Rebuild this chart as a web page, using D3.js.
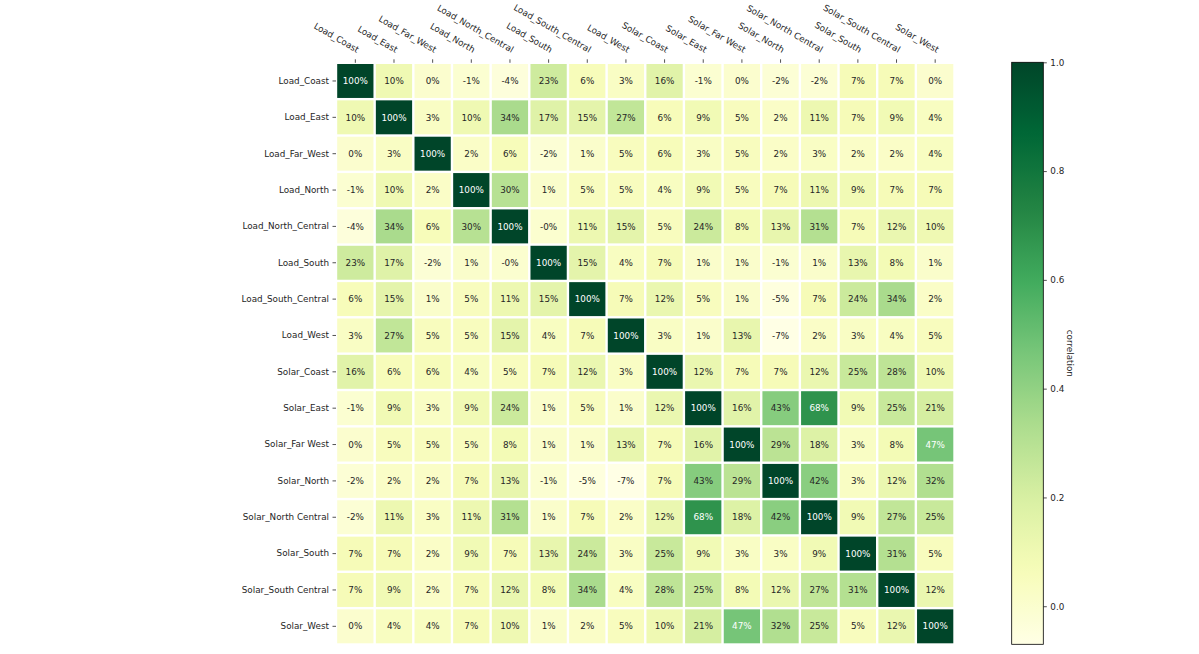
<!DOCTYPE html>
<html>
<head>
<meta charset="utf-8">
<title>Correlation heatmap</title>
<script src="https://cdn.jsdelivr.net/npm/d3@7/dist/d3.min.js"></script>
<style>
  body { margin: 0; background: #fff; }
  svg text { font-family: "DejaVu Sans", sans-serif; }
</style>
</head>
<body>
<svg id="chart" width="1199" height="654"></svg>
<script>
// row / column names
const labels = ["Load_Coast", "Load_East", "Load_Far_West", "Load_North", "Load_North_Central",
  "Load_South", "Load_South_Central", "Load_West", "Solar_Coast", "Solar_East", "Solar_Far West",
  "Solar_North", "Solar_North Central", "Solar_South", "Solar_South Central", "Solar_West"];

// correlation matrix
const corr = [
  [1.00, 0.10, 0.00, -0.01, -0.04, 0.23, 0.06, 0.03, 0.16, -0.01, 0.00, -0.02, -0.02, 0.07, 0.07, 0.00],
  [0.10, 1.00, 0.03, 0.10, 0.34, 0.17, 0.15, 0.27, 0.06, 0.09, 0.05, 0.02, 0.11, 0.07, 0.09, 0.04],
  [0.00, 0.03, 1.00, 0.02, 0.06, -0.02, 0.01, 0.05, 0.06, 0.03, 0.05, 0.02, 0.03, 0.02, 0.02, 0.04],
  [-0.01, 0.10, 0.02, 1.00, 0.30, 0.01, 0.05, 0.05, 0.04, 0.09, 0.05, 0.07, 0.11, 0.09, 0.07, 0.07],
  [-0.04, 0.34, 0.06, 0.30, 1.00, -0.004, 0.11, 0.15, 0.05, 0.24, 0.08, 0.13, 0.31, 0.07, 0.12, 0.10],
  [0.23, 0.17, -0.02, 0.01, -0.004, 1.00, 0.15, 0.04, 0.07, 0.01, 0.01, -0.01, 0.01, 0.13, 0.08, 0.01],
  [0.06, 0.15, 0.01, 0.05, 0.11, 0.15, 1.00, 0.07, 0.12, 0.05, 0.01, -0.05, 0.07, 0.24, 0.34, 0.02],
  [0.03, 0.27, 0.05, 0.05, 0.15, 0.04, 0.07, 1.00, 0.03, 0.01, 0.13, -0.07, 0.02, 0.03, 0.04, 0.05],
  [0.16, 0.06, 0.06, 0.04, 0.05, 0.07, 0.12, 0.03, 1.00, 0.12, 0.07, 0.07, 0.12, 0.25, 0.28, 0.10],
  [-0.01, 0.09, 0.03, 0.09, 0.24, 0.01, 0.05, 0.01, 0.12, 1.00, 0.16, 0.43, 0.68, 0.09, 0.25, 0.21],
  [0.00, 0.05, 0.05, 0.05, 0.08, 0.01, 0.01, 0.13, 0.07, 0.16, 1.00, 0.29, 0.18, 0.03, 0.08, 0.47],
  [-0.02, 0.02, 0.02, 0.07, 0.13, -0.01, -0.05, -0.07, 0.07, 0.43, 0.29, 1.00, 0.42, 0.03, 0.12, 0.32],
  [-0.02, 0.11, 0.03, 0.11, 0.31, 0.01, 0.07, 0.02, 0.12, 0.68, 0.18, 0.42, 1.00, 0.09, 0.27, 0.25],
  [0.07, 0.07, 0.02, 0.09, 0.07, 0.13, 0.24, 0.03, 0.25, 0.09, 0.03, 0.03, 0.09, 1.00, 0.31, 0.05],
  [0.07, 0.09, 0.02, 0.07, 0.12, 0.08, 0.34, 0.04, 0.28, 0.25, 0.08, 0.12, 0.27, 0.31, 1.00, 0.12],
  [0.00, 0.04, 0.04, 0.07, 0.10, 0.01, 0.02, 0.05, 0.10, 0.21, 0.47, 0.32, 0.25, 0.05, 0.12, 1.00]
];

// colour bar ticks
const cbarTicks = [0.0, 0.2, 0.4, 0.6, 0.8, 1.0];
const cbarLabel = "correlation";

// YlGn, 9 class
const ylgn = ["#ffffe5", "#f7fcb9", "#d9f0a3", "#addd8e", "#78c679", "#41ab5d", "#238443", "#006837", "#004529"];

const svg = d3.select("#chart");
const textDark = "#262626";
const fs = 8.8;

const vmin = d3.min(corr.flat()), vmax = 1;
const color = d3.scaleLinear()
  .domain(ylgn.map((c, i) => vmin + (vmax - vmin) * i / (ylgn.length - 1)))
  .range(ylgn)
  .interpolate(d3.interpolateRgb)
  .clamp(true);

const x = d3.scaleBand().domain(labels).range([336, 954.5]).paddingInner(0.062).paddingOuter(0.031);
const y = d3.scaleBand().domain(labels).range([62.8, 644.5]).paddingInner(0.066).paddingOuter(0.033);

function lum(c) {
  const rgb = d3.rgb(c);
  const f = v => { v /= 255; return v <= 0.03928 ? v / 12.92 : Math.pow((v + 0.055) / 1.055, 2.4); };
  return 0.2126 * f(rgb.r) + 0.7152 * f(rgb.g) + 0.0722 * f(rgb.b);
}
const fmt = v => (v < 0 ? "-" : "") + Math.abs(Math.round(v * 100)) + "%";

const cells = [];
corr.forEach((row, i) => row.forEach((v, j) => cells.push({r: labels[i], c: labels[j], v: v})));

const g = svg.append("g");
g.selectAll("rect")
  .data(cells)
  .join("rect")
  .attr("x", d => x(d.c))
  .attr("y", d => y(d.r))
  .attr("width", x.bandwidth())
  .attr("height", y.bandwidth())
  .attr("fill", d => color(d.v));

g.selectAll("text")
  .data(cells)
  .join("text")
  .attr("x", d => x(d.c) + x.bandwidth() / 2)
  .attr("y", d => y(d.r) + y.bandwidth() / 2)
  .attr("dy", "0.36em")
  .attr("text-anchor", "middle")
  .attr("font-size", fs)
  .attr("fill", d => lum(color(d.v)) < 0.47 ? "#ffffff" : textDark)
  .text(d => fmt(d.v));

// left axis
const yAxis = svg.append("g")
  .attr("transform", "translate(336,0)")
  .call(d3.axisLeft(y).tickSize(3.5).tickPadding(3.5));
yAxis.select(".domain").remove();
yAxis.selectAll("text").attr("font-size", fs).attr("fill", textDark).attr("font-family", "DejaVu Sans");
yAxis.selectAll("line").attr("stroke", textDark).attr("stroke-width", 0.8);

// top axis, labels rotated
const xAxis = svg.append("g")
  .attr("transform", "translate(0,62.8)")
  .call(d3.axisTop(x).tickSize(3.5));
xAxis.select(".domain").remove();
xAxis.selectAll("line").attr("stroke", textDark).attr("stroke-width", 0.8);
xAxis.selectAll("text")
  .attr("font-size", fs).attr("fill", textDark).attr("font-family", "DejaVu Sans")
  .attr("x", 0).attr("y", 0).attr("dy", 0)
  .attr("text-anchor", "end")
  .attr("transform", "translate(1.5,-9.8) rotate(30)");

// colour bar
const cb = {x: 1011.7, w: 31.6, top: 62.3, bottom: 644.3};
const cy = d3.scaleLinear().domain([vmin, vmax]).range([cb.bottom, cb.top]);

const grad = svg.append("defs").append("linearGradient")
  .attr("id", "cbar").attr("x1", 0).attr("y1", 1).attr("x2", 0).attr("y2", 0);
d3.range(0, 1.0001, 0.02).forEach(t => {
  grad.append("stop").attr("offset", t).attr("stop-color", color(vmin + t * (vmax - vmin)));
});
svg.append("rect")
  .attr("x", cb.x).attr("y", cb.top)
  .attr("width", cb.w).attr("height", cb.bottom - cb.top)
  .attr("fill", "url(#cbar)")
  .attr("stroke", "#000").attr("stroke-width", 0.8);

const cAxis = svg.append("g")
  .attr("transform", `translate(${cb.x + cb.w},0)`)
  .call(d3.axisRight(cy).tickValues(cbarTicks).tickFormat(d3.format(".1f")).tickSize(3.5).tickPadding(3.5));
cAxis.select(".domain").remove();
cAxis.selectAll("text").attr("font-size", fs).attr("fill", textDark).attr("font-family", "DejaVu Sans");
cAxis.selectAll("line").attr("stroke", textDark).attr("stroke-width", 0.8);

svg.append("text")
  .attr("transform", `translate(1067,${(cb.top + cb.bottom) / 2}) rotate(90)`)
  .attr("text-anchor", "middle")
  .attr("font-size", fs)
  .attr("fill", textDark)
  .text(cbarLabel);
</script>
</body>
</html>
